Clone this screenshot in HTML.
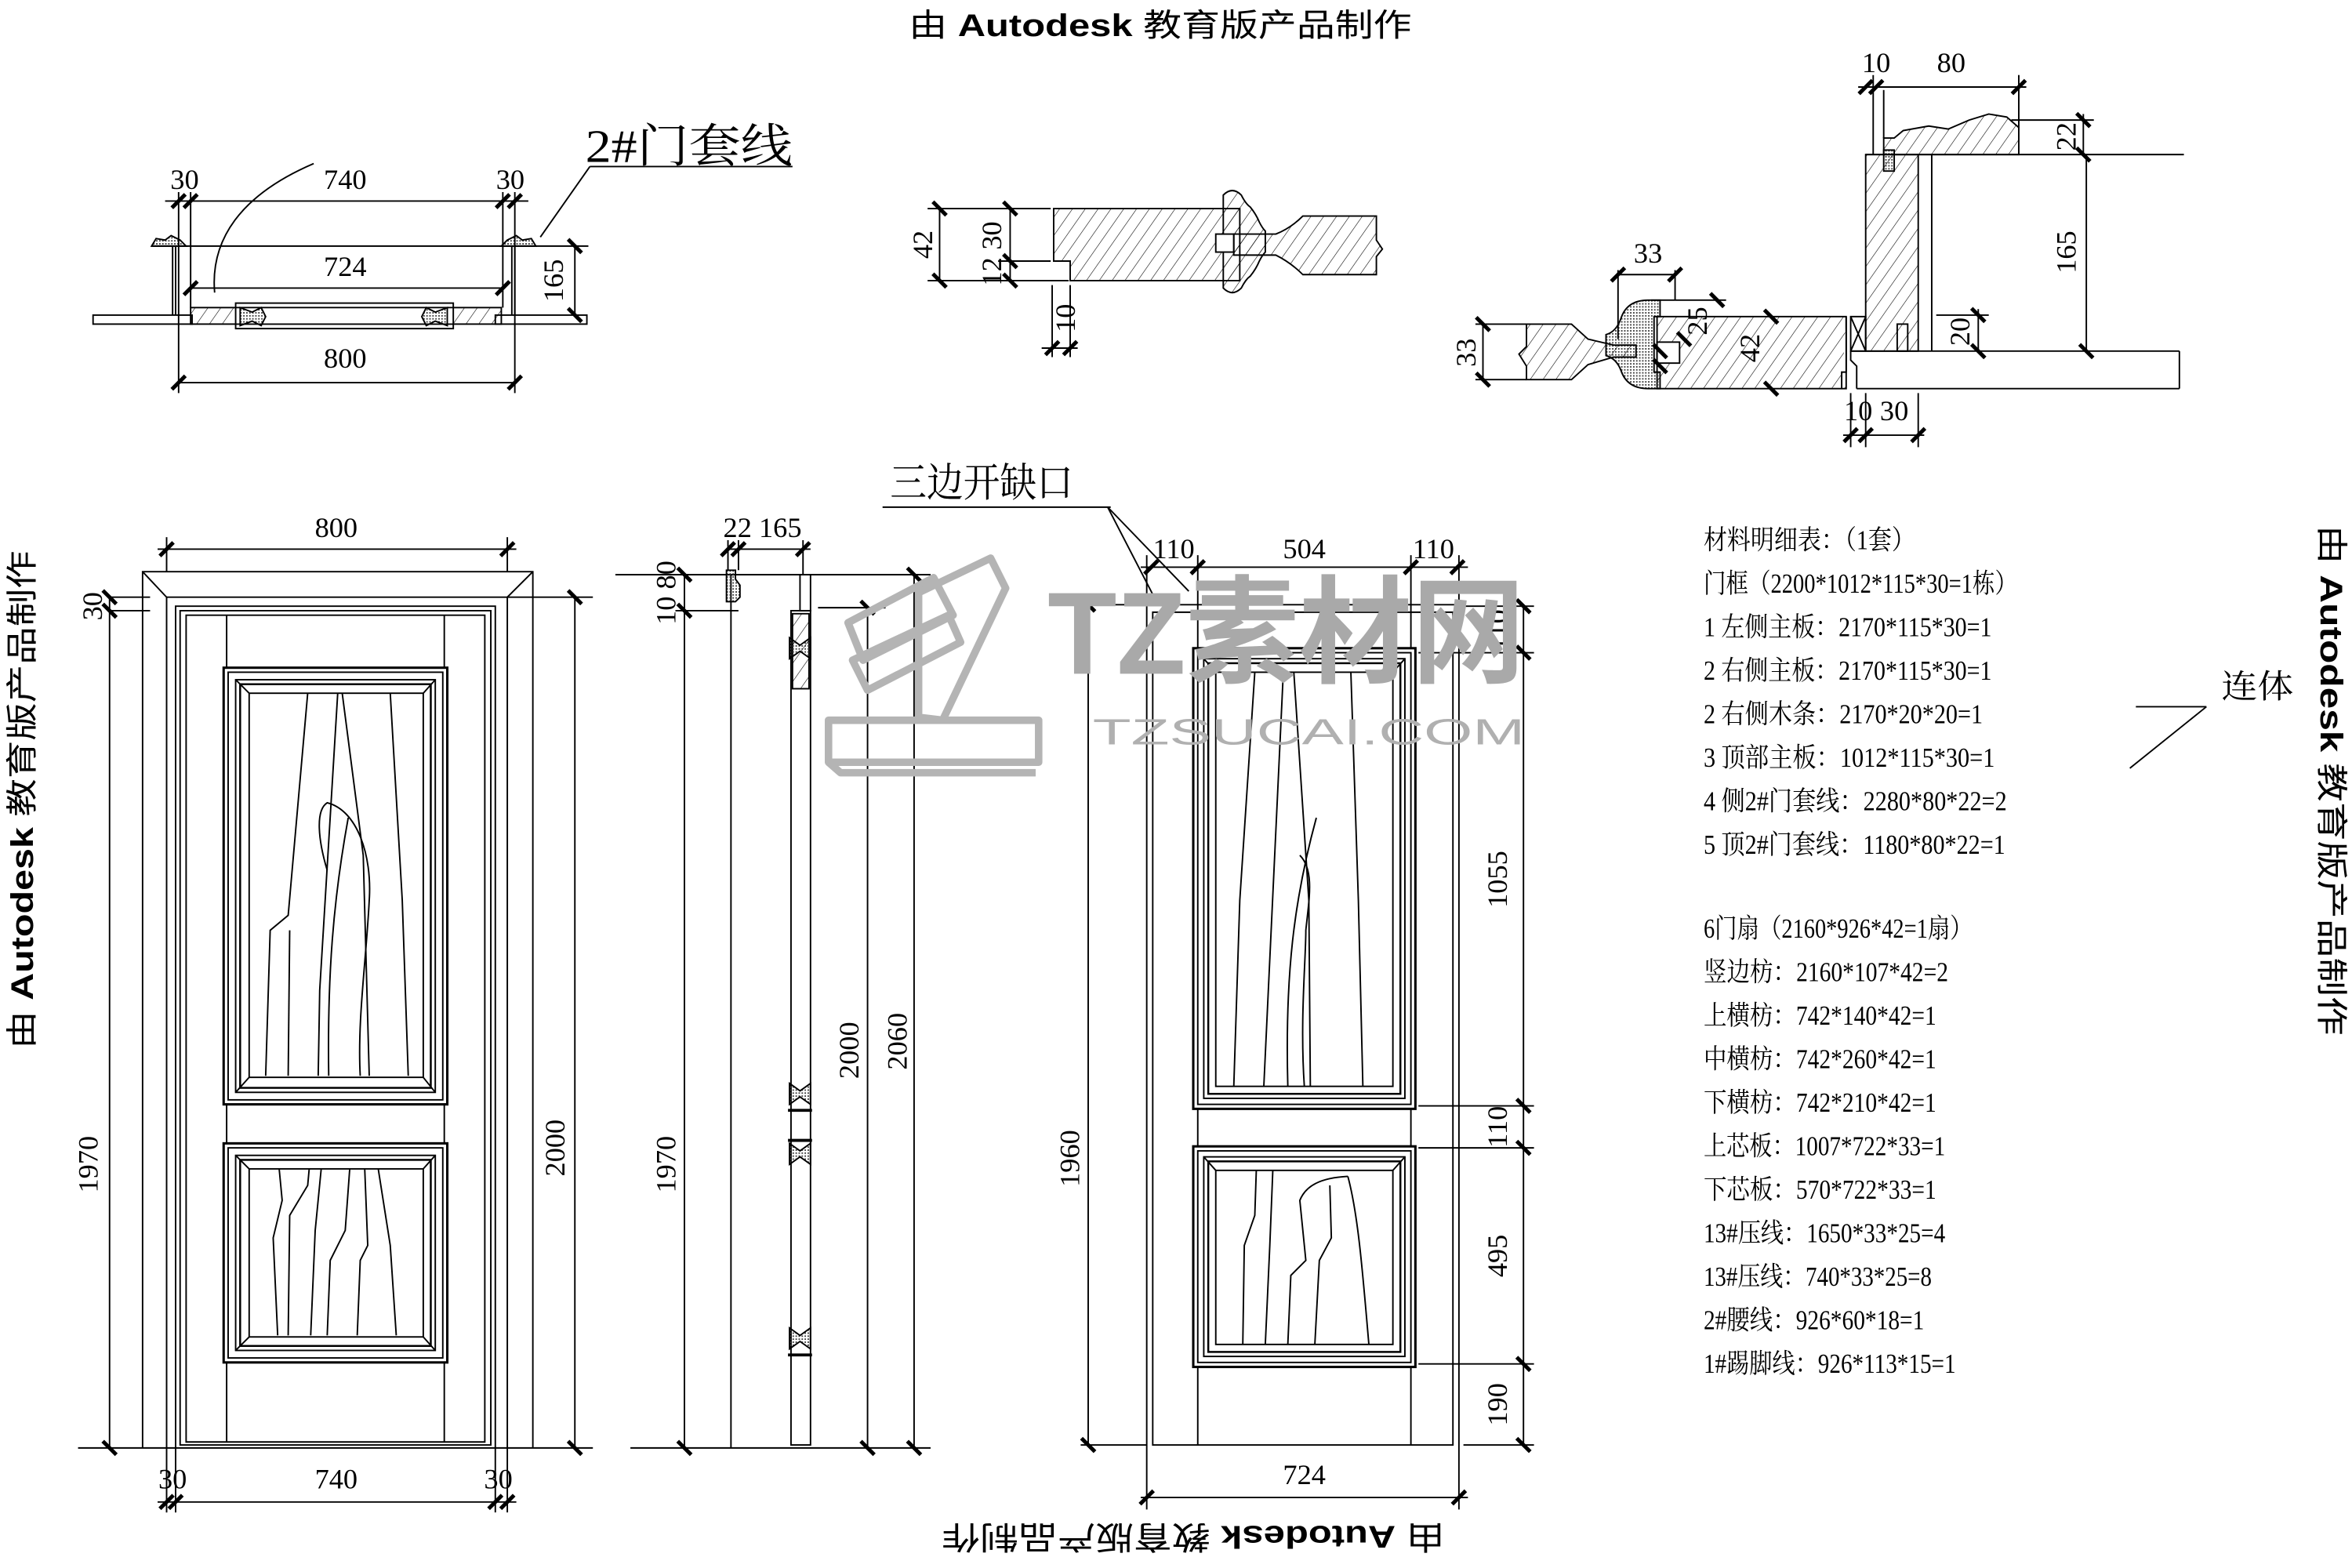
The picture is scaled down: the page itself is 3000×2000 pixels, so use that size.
<!DOCTYPE html>
<html><head><meta charset="utf-8"><style>
html,body{margin:0;padding:0;background:#fff;}
svg{display:block;}
text{font-family:"Liberation Serif","Noto Serif CJK SC",serif;fill:#000;}
.s{font-family:"Liberation Sans","Noto Sans CJK SC",sans-serif;}
</style></head><body>
<svg width="3000" height="2000" viewBox="0 0 1567 1045" preserveAspectRatio="none" xmlns="http://www.w3.org/2000/svg">
<defs>
<pattern id="h" width="7" height="7" patternUnits="userSpaceOnUse" patternTransform="rotate(35)"><line x1="0" y1="0" x2="0" y2="7" stroke="#000" stroke-width="0.6"/></pattern>
<pattern id="d" width="2" height="2" patternUnits="userSpaceOnUse"><rect width="1" height="1" fill="#444"/></pattern>
<g id="th"><line x1="-4.5" y1="4.5" x2="4.5" y2="-4.5" stroke="#000" stroke-width="2.6"/></g>
<g id="tv"><line x1="-4.5" y1="-4.5" x2="4.5" y2="4.5" stroke="#000" stroke-width="2.6"/></g>
</defs>
<rect width="1567" height="1045" fill="#fff"/>

<text x="773" y="24" class="s" font-size="21" textLength="335" lengthAdjust="spacingAndGlyphs" text-anchor="middle">由 <tspan font-weight="bold">Autodesk</tspan> 教育版产品制作</text>
<text transform="translate(795,1024) rotate(180)" x="0" y="7" class="s" font-size="21" textLength="335" lengthAdjust="spacingAndGlyphs" text-anchor="middle">由 <tspan font-weight="bold">Autodesk</tspan> 教育版产品制作</text>
<text transform="translate(15,533) rotate(-90)" x="0" y="7" class="s" font-size="21" textLength="332" lengthAdjust="spacingAndGlyphs" text-anchor="middle">由 <tspan font-weight="bold">Autodesk</tspan> 教育版产品制作</text>
<text transform="translate(1553,520) rotate(90)" x="0" y="7" class="s" font-size="21" textLength="340" lengthAdjust="spacingAndGlyphs" text-anchor="middle">由 <tspan font-weight="bold">Autodesk</tspan> 教育版产品制作</text>

<g stroke="#000" stroke-width="1" fill="none">
<rect x="62" y="210" width="66" height="6"/>
<rect x="330" y="210" width="61" height="6"/>
<rect x="127" y="205" width="207" height="11" fill="url(#h)"/>
<rect x="157" y="202" width="145" height="17" fill="#fff"/>
<line x1="157" y1="205" x2="302" y2="205"/><line x1="157" y1="216" x2="302" y2="216"/>
<path d="M160,205 l8,3 l6,-3 l3,6 l-3,6 l-6,-3 l-8,3 z" fill="url(#d)"/>
<path d="M298,205 l-8,3 l-6,-3 l-3,6 l3,6 l6,-3 l8,3 z" fill="url(#d)"/>
<path d="M101,164 l3,-5 l6,1 l4,-3 l6,3 l4,4 z" fill="url(#d)"/>
<path d="M357,164 l-3,-5 l-6,1 l-4,-3 l-6,3 l-4,4 z" fill="url(#d)"/>
<line x1="101" y1="164" x2="392" y2="164"/>
<line x1="115" y1="164" x2="115" y2="210"/><line x1="117" y1="164" x2="117" y2="210"/>
<line x1="341" y1="164" x2="341" y2="210"/><line x1="343" y1="164" x2="343" y2="210"/>
<line x1="119" y1="128" x2="119" y2="262"/><line x1="343" y1="128" x2="343" y2="262"/>
<line x1="127" y1="128" x2="127" y2="205"/><line x1="335" y1="128" x2="335" y2="205"/>
<line x1="110" y1="134" x2="352" y2="134"/>
<line x1="127" y1="192" x2="335" y2="192"/>
<line x1="119" y1="255" x2="343" y2="255"/>
<line x1="383" y1="164" x2="383" y2="210"/>
<path d="M209,109 C160,130 140,160 143,195"/>
<line x1="393" y1="111" x2="528" y2="111"/>
<line x1="393" y1="111" x2="360" y2="158"/>

<path d="M702,139 H826 V187 H713 V174 H702 Z" fill="url(#h)"/>
<path d="M815,130 q6,-6 12,0 q3,6 6,8 q4,5 6,10 q2,4 4,6 v14 q-2,2 -4,6 q-2,5 -6,10 q-3,2 -6,8 q-6,6 -12,0 z" fill="url(#h)"/>
<rect x="810" y="156" width="12" height="12" fill="#fff"/>
<path d="M822,156 H850 Q860,152 868,144 H917 V160 L921,166 L917,171 V183 H868 Q860,175 850,170 H822 Z" fill="url(#h)"/>
<line x1="618" y1="139" x2="700" y2="139"/><line x1="618" y1="187" x2="712" y2="187"/><line x1="665" y1="174" x2="700" y2="174"/>
<line x1="626" y1="139" x2="626" y2="187"/><line x1="673" y1="139" x2="673" y2="187"/>
<line x1="701" y1="190" x2="701" y2="238"/><line x1="713" y1="190" x2="713" y2="238"/>
<line x1="694" y1="232" x2="718" y2="232"/>

<rect x="1243" y="103" width="35" height="131" fill="url(#h)"/>
<rect x="1255" y="100" width="7" height="14" fill="url(#d)"/>
<path d="M1255,103 V92 H1262 L1268,87 L1285,84 L1298,86 L1312,80 L1325,76 L1337,78 L1345,85 V103 Z" fill="url(#h)"/>
<line x1="1243" y1="103" x2="1455" y2="103"/>
<line x1="1287" y1="103" x2="1287" y2="234"/>
<line x1="1233" y1="234" x2="1452" y2="234"/>
<line x1="1452" y1="234" x2="1452" y2="259"/>
<line x1="1237" y1="259" x2="1452" y2="259"/>
<path d="M1237,259 V244 L1233,240 V234"/>
<rect x="1104" y="211" width="126" height="48" fill="url(#h)"/>
<path d="M1230,211 V248 H1227 V259" fill="#fff"/>
<rect x="1233" y="211" width="10" height="23"/>
<line x1="1233" y1="211" x2="1243" y2="234"/><line x1="1243" y1="211" x2="1233" y2="234"/>
<rect x="1264" y="216" width="7" height="18"/>
<path d="M1080,212 q4,-12 18,-12 h8 v11 h-4 v37 h4 v11 h-8 q-14,0 -18,-12 q-3,-8 -10,-10 v-14 q7,-2 10,-11 z" fill="url(#d)"/>
<rect x="1104" y="228" width="15" height="14" fill="#fff"/>
<path d="M1017,216 H1047 L1058,226 L1075,230 H1090 V238 H1075 L1058,243 L1047,253 H1017 V244 L1012,236 L1017,231 Z" fill="url(#h)"/>
<line x1="1248" y1="50" x2="1248" y2="103"/><line x1="1255" y1="60" x2="1255" y2="92"/><line x1="1345" y1="50" x2="1345" y2="85"/>
<line x1="1238" y1="58" x2="1350" y2="58"/>
<line x1="1340" y1="80" x2="1395" y2="80"/><line x1="1388" y1="76" x2="1388" y2="103"/>
<line x1="1390" y1="103" x2="1390" y2="234"/>
<line x1="1290" y1="210" x2="1325" y2="210"/><line x1="1318" y1="206" x2="1318" y2="234"/>
<line x1="1078" y1="183" x2="1116" y2="183"/><line x1="1078" y1="180" x2="1078" y2="226"/><line x1="1116" y1="180" x2="1116" y2="200"/>
<line x1="1100" y1="200" x2="1150" y2="200"/>
<line x1="988" y1="216" x2="988" y2="253"/>
<line x1="983" y1="216" x2="1017" y2="216"/><line x1="983" y1="253" x2="1017" y2="253"/>
<line x1="1233" y1="262" x2="1233" y2="298"/><line x1="1243" y1="262" x2="1243" y2="298"/><line x1="1278" y1="262" x2="1278" y2="298"/>
<line x1="1228" y1="290" x2="1282" y2="290"/>

<path d="M95,965 V381 H355 V965"/>
<path d="M111,965 V398 H338 V965"/>
<line x1="95" y1="381" x2="111" y2="398"/><line x1="355" y1="381" x2="338" y2="398"/>
<path d="M117,965 V404 H330 V965"/>
<path d="M120,963 V407 H327 V963 Z"/>
<path d="M124,961 V410 H323 V961 Z"/>
<line x1="151" y1="410" x2="151" y2="961"/><line x1="296" y1="410" x2="296" y2="961"/>
<g fill="#fff">
<rect x="149" y="445" width="149" height="291" stroke-width="1.6"/>
<rect x="152" y="448" width="143" height="285"/>
<rect x="157" y="453" width="133" height="275"/>
<rect x="160" y="456" width="127" height="269" stroke-width="1.3"/>
<rect x="166" y="462" width="116" height="256"/>
<rect x="149" y="762" width="149" height="146" stroke-width="1.6"/>
<rect x="152" y="765" width="143" height="140"/>
<rect x="157" y="770" width="133" height="130"/>
<rect x="160" y="773" width="127" height="124" stroke-width="1.3"/>
<rect x="166" y="779" width="116" height="112"/>
</g>
<line x1="157" y1="453" x2="166" y2="462"/><line x1="290" y1="453" x2="282" y2="462"/><line x1="157" y1="728" x2="166" y2="718"/><line x1="290" y1="728" x2="282" y2="718"/>
<line x1="157" y1="770" x2="166" y2="779"/><line x1="290" y1="770" x2="282" y2="779"/><line x1="157" y1="900" x2="166" y2="891"/><line x1="290" y1="900" x2="282" y2="891"/>
<path d="M177,717 L180,620 L192,610 L205,462"/>
<path d="M192,717 L193,620"/>
<path d="M212,717 L213,660 L225,462"/>
<path d="M228,462 L242,570 L246,717"/>
<path d="M260,462 L268,600 L272,717"/>
<path d="M219,717 C218,650 222,600 232,545"/>
<path d="M240,717 C238,680 244,640 246,600 C248,570 238,540 218,535 C210,540 212,560 218,580"/>
<path d="M185,890 L182,825 L188,800 L186,779"/>
<path d="M192,890 L193,810 L205,790 L206,779"/>
<path d="M207,890 L210,820 L214,779"/>
<path d="M218,890 L220,840 L230,820 L233,779"/>
<path d="M238,890 L240,840 L245,830 L243,779"/>
<path d="M252,779 L260,830 L264,890"/>
<line x1="73" y1="398" x2="100" y2="398"/><line x1="73" y1="407" x2="100" y2="407"/>
<line x1="73" y1="398" x2="73" y2="965"/>
<line x1="52" y1="965" x2="395" y2="965"/>
<line x1="338" y1="398" x2="395" y2="398"/>
<line x1="383" y1="398" x2="383" y2="965"/>
<line x1="111" y1="358" x2="111" y2="381"/><line x1="338" y1="358" x2="338" y2="381"/>
<line x1="105" y1="366" x2="344" y2="366"/>
<line x1="111" y1="965" x2="111" y2="1008"/><line x1="117" y1="965" x2="117" y2="1008"/><line x1="330" y1="965" x2="330" y2="1008"/><line x1="338" y1="965" x2="338" y2="1008"/>
<line x1="105" y1="1001" x2="344" y2="1001"/>

<line x1="410" y1="383" x2="620" y2="383"/>
<line x1="450" y1="407" x2="492" y2="407"/>
<line x1="456" y1="383" x2="456" y2="965"/>
<line x1="487" y1="383" x2="487" y2="965"/>
<line x1="420" y1="965" x2="620" y2="965"/>
<path d="M484,380 h6 v6 l3,4 v8 l-3,3 h-6 z" fill="url(#d)"/>
<line x1="485" y1="366" x2="540" y2="366"/>
<line x1="485" y1="360" x2="485" y2="380"/><line x1="492" y1="360" x2="492" y2="380"/><line x1="535" y1="360" x2="535" y2="383"/>
<rect x="527" y="407" width="13" height="556"/>
<rect x="533" y="383" width="7" height="24"/>
<rect x="528" y="409" width="11" height="50" fill="url(#h)"/>
<path d="M526,425 l7,5 l7,-5 v14 l-7,-5 l-7,5 z" fill="url(#d)"/>
<path d="M526,722 l7,5 l7,-5 v14 l-7,-5 l-7,5 z" fill="url(#d)"/>
<path d="M526,762 l7,5 l7,-5 v14 l-7,-5 l-7,5 z" fill="url(#d)"/>
<path d="M526,885 l7,5 l7,-5 v14 l-7,-5 l-7,5 z" fill="url(#d)"/>
<line x1="525" y1="740" x2="541" y2="740" stroke-width="2"/><line x1="525" y1="760" x2="541" y2="760" stroke-width="2"/><line x1="525" y1="903" x2="541" y2="903" stroke-width="2"/>
<line x1="545" y1="405" x2="590" y2="405"/>
<line x1="578" y1="405" x2="578" y2="965"/>
<line x1="609" y1="383" x2="609" y2="965"/>

<path d="M764,963 V403 H972 V963"/>
<path d="M768,963 V408 H968 V963 Z"/>
<line x1="798" y1="408" x2="798" y2="963"/><line x1="940" y1="408" x2="940" y2="963"/>
<g fill="#fff">
<rect x="795" y="432" width="148" height="307" stroke-width="1.6"/>
<rect x="798" y="435" width="142" height="301"/>
<rect x="802" y="439" width="134" height="293"/>
<rect x="805" y="442" width="128" height="287" stroke-width="1.3"/>
<rect x="810" y="448" width="118" height="276"/>
<rect x="795" y="764" width="148" height="147" stroke-width="1.6"/>
<rect x="798" y="767" width="142" height="141"/>
<rect x="802" y="771" width="134" height="133"/>
<rect x="805" y="774" width="128" height="127" stroke-width="1.3"/>
<rect x="810" y="780" width="118" height="116"/>
</g>
<line x1="802" y1="439" x2="810" y2="448"/><line x1="936" y1="439" x2="928" y2="448"/>
<line x1="802" y1="771" x2="810" y2="780"/><line x1="936" y1="771" x2="928" y2="780"/>
<path d="M822,724 L826,600 L836,448"/>
<path d="M842,724 L855,448"/>
<path d="M862,448 L872,600 L873,724"/>
<path d="M900,448 L905,600 L908,724"/>
<path d="M858,724 C856,650 862,600 877,545"/>
<path d="M869,724 C866,680 870,640 870,620 C872,600 876,580 866,570"/>
<path d="M828,896 L829,830 L836,810 L837,780"/>
<path d="M843,896 L846,830 L848,780"/>
<path d="M858,896 L860,850 L870,840 L866,800 C870,790 880,785 898,784"/>
<path d="M876,896 L879,840 L887,825 L886,790"/>
<path d="M898,784 C905,810 908,850 912,896"/>
<line x1="764" y1="370" x2="764" y2="403"/><line x1="798" y1="370" x2="798" y2="408"/><line x1="940" y1="370" x2="940" y2="408"/><line x1="972" y1="370" x2="972" y2="403"/>
<line x1="760" y1="378" x2="978" y2="378"/>
<line x1="720" y1="403" x2="764" y2="403"/><line x1="720" y1="963" x2="764" y2="963"/>
<line x1="725" y1="403" x2="725" y2="963"/>
<line x1="975" y1="404" x2="1022" y2="404"/><line x1="945" y1="435" x2="1022" y2="435"/>
<line x1="945" y1="737" x2="1022" y2="737"/><line x1="945" y1="765" x2="1022" y2="765"/>
<line x1="945" y1="909" x2="1022" y2="909"/><line x1="975" y1="963" x2="1022" y2="963"/>
<line x1="1015" y1="404" x2="1015" y2="963"/>
<line x1="764" y1="963" x2="764" y2="1006"/><line x1="972" y1="963" x2="972" y2="1006"/>
<line x1="760" y1="998" x2="978" y2="998"/>
<line x1="588" y1="338" x2="740" y2="338"/>
<line x1="738" y1="338" x2="770" y2="400"/>
<line x1="738" y1="338" x2="792" y2="394"/>
<line x1="1423" y1="471" x2="1470" y2="471"/>
<line x1="1470" y1="471" x2="1419" y2="512"/>
</g>

<use href="#th" x="119" y="134"/><use href="#th" x="127" y="134"/><use href="#th" x="335" y="134"/><use href="#th" x="343" y="134"/>
<use href="#th" x="127" y="192"/><use href="#th" x="335" y="192"/>
<use href="#th" x="119" y="255"/><use href="#th" x="343" y="255"/>
<use href="#tv" x="383" y="164"/><use href="#tv" x="383" y="210"/>
<use href="#tv" x="626" y="139"/><use href="#tv" x="626" y="187"/><use href="#tv" x="673" y="139"/><use href="#tv" x="673" y="174"/><use href="#tv" x="673" y="187"/>
<use href="#th" x="701" y="232"/><use href="#th" x="713" y="232"/>
<use href="#th" x="1243" y="58"/><use href="#th" x="1250" y="58"/><use href="#th" x="1345" y="58"/>
<use href="#tv" x="1388" y="80"/><use href="#tv" x="1388" y="103"/><use href="#tv" x="1390" y="234"/>
<use href="#tv" x="1318" y="210"/><use href="#tv" x="1318" y="234"/>
<use href="#th" x="1078" y="183"/><use href="#th" x="1116" y="183"/>
<use href="#tv" x="1144" y="200"/><use href="#tv" x="1122" y="226"/><use href="#tv" x="1106" y="234"/><use href="#tv" x="1106" y="244"/><use href="#tv" x="1180" y="211"/><use href="#tv" x="1180" y="259"/>
<use href="#tv" x="988" y="216"/><use href="#tv" x="988" y="253"/>
<use href="#th" x="1233" y="290"/><use href="#th" x="1243" y="290"/><use href="#th" x="1278" y="290"/>
<use href="#th" x="111" y="366"/><use href="#th" x="338" y="366"/>
<use href="#tv" x="73" y="398"/><use href="#tv" x="73" y="407"/><use href="#tv" x="73" y="965"/>
<use href="#tv" x="383" y="398"/><use href="#tv" x="383" y="965"/>
<use href="#th" x="111" y="1001"/><use href="#th" x="117" y="1001"/><use href="#th" x="330" y="1001"/><use href="#th" x="338" y="1001"/>
<use href="#tv" x="456" y="383"/><use href="#tv" x="456" y="407"/><use href="#tv" x="456" y="965"/>
<use href="#th" x="485" y="366"/><use href="#th" x="492" y="366"/><use href="#th" x="535" y="366"/>
<use href="#tv" x="578" y="405"/><use href="#tv" x="578" y="965"/><use href="#tv" x="609" y="383"/><use href="#tv" x="609" y="965"/>
<use href="#th" x="767" y="378"/><use href="#th" x="798" y="378"/><use href="#th" x="940" y="378"/><use href="#th" x="971" y="378"/>
<use href="#tv" x="725" y="403"/><use href="#tv" x="725" y="963"/>
<use href="#tv" x="1015" y="404"/><use href="#tv" x="1015" y="435"/><use href="#tv" x="1015" y="737"/><use href="#tv" x="1015" y="765"/><use href="#tv" x="1015" y="909"/><use href="#tv" x="1015" y="963"/>
<use href="#th" x="764" y="998"/><use href="#th" x="972" y="998"/>

<g font-size="19" text-anchor="middle">
<text x="123" y="126">30</text><text x="230" y="126">740</text><text x="340" y="126">30</text>
<text x="230" y="184">724</text><text x="230" y="245">800</text>
<text transform="translate(375,187) rotate(-90)">165</text>
<text transform="translate(621,163) rotate(-90)">42</text>
<text transform="translate(667,157) rotate(-90)">30</text>
<text transform="translate(667,181) rotate(-90)">12</text>
<text transform="translate(716,212) rotate(-90)">10</text>
<text x="1250" y="48">10</text><text x="1300" y="48">80</text>
<text transform="translate(1383,91) rotate(-90)">22</text>
<text transform="translate(1383,168) rotate(-90)">165</text>
<text transform="translate(1312,221) rotate(-90)">20</text>
<text x="1098" y="175">33</text>
<text transform="translate(1137,214) rotate(-90)">25</text>
<text transform="translate(1172,232) rotate(-90)">42</text>
<text transform="translate(983,235) rotate(-90)">33</text>
<text x="1238" y="280">10</text><text x="1262" y="280">30</text>
<text x="224" y="358">800</text>
<text transform="translate(68,404) rotate(-90)">30</text>
<text transform="translate(65,776) rotate(-90)">1970</text>
<text transform="translate(376,765) rotate(-90)">2000</text>
<text x="115" y="992">30</text><text x="224" y="992">740</text><text x="332" y="992">30</text>
<text transform="translate(450,395) rotate(-90)">10 80</text>
<text x="508" y="358">22 165</text>
<text transform="translate(450,776) rotate(-90)">1970</text>
<text transform="translate(572,700) rotate(-90)">2000</text>
<text transform="translate(604,694) rotate(-90)">2060</text>
<text x="782" y="372">110</text><text x="869" y="372">504</text><text x="955" y="372">110</text>
<text transform="translate(719,772) rotate(-90)">1960</text>
<text transform="translate(1004,420) rotate(-90)">110</text>
<text transform="translate(1004,586) rotate(-90)">1055</text>
<text transform="translate(1004,751) rotate(-90)">110</text>
<text transform="translate(1004,837) rotate(-90)">495</text>
<text transform="translate(1004,936) rotate(-90)">190</text>
<text x="869" y="989">724</text>
</g>

<text x="390" y="108" font-size="31" textLength="138" lengthAdjust="spacingAndGlyphs">2#门套线</text>
<text x="593" y="331" font-size="27" textLength="122" lengthAdjust="spacingAndGlyphs">三边开缺口</text>
<text x="1480" y="465" font-size="22" textLength="48" lengthAdjust="spacingAndGlyphs">连体</text>

<g font-size="18">
<text x="1135" y="366" textLength="141" lengthAdjust="spacingAndGlyphs">材料明细表：（1套）</text>
<text x="1135" y="395" textLength="209" lengthAdjust="spacingAndGlyphs">门框（2200*1012*115*30=1栋）</text>
<text x="1135" y="424" textLength="192" lengthAdjust="spacingAndGlyphs">1 左侧主板：2170*115*30=1</text>
<text x="1135" y="453" textLength="192" lengthAdjust="spacingAndGlyphs">2 右侧主板：2170*115*30=1</text>
<text x="1135" y="482" textLength="186" lengthAdjust="spacingAndGlyphs">2 右侧木条：2170*20*20=1</text>
<text x="1135" y="511" textLength="194" lengthAdjust="spacingAndGlyphs">3 顶部主板：1012*115*30=1</text>
<text x="1135" y="540" textLength="202" lengthAdjust="spacingAndGlyphs">4 侧2#门套线：2280*80*22=2</text>
<text x="1135" y="569" textLength="201" lengthAdjust="spacingAndGlyphs">5 顶2#门套线：1180*80*22=1</text>
<text x="1135" y="625" textLength="179" lengthAdjust="spacingAndGlyphs">6门扇（2160*926*42=1扇）</text>
<text x="1135" y="654" textLength="163" lengthAdjust="spacingAndGlyphs">竖边枋：2160*107*42=2</text>
<text x="1135" y="683" textLength="155" lengthAdjust="spacingAndGlyphs">上横枋：742*140*42=1</text>
<text x="1135" y="712" textLength="155" lengthAdjust="spacingAndGlyphs">中横枋：742*260*42=1</text>
<text x="1135" y="741" textLength="155" lengthAdjust="spacingAndGlyphs">下横枋：742*210*42=1</text>
<text x="1135" y="770" textLength="161" lengthAdjust="spacingAndGlyphs">上芯板：1007*722*33=1</text>
<text x="1135" y="799" textLength="155" lengthAdjust="spacingAndGlyphs">下芯板：570*722*33=1</text>
<text x="1135" y="828" textLength="161" lengthAdjust="spacingAndGlyphs">13#压线：1650*33*25=4</text>
<text x="1135" y="857" textLength="152" lengthAdjust="spacingAndGlyphs">13#压线：740*33*25=8</text>
<text x="1135" y="886" textLength="147" lengthAdjust="spacingAndGlyphs">2#腰线：926*60*18=1</text>
<text x="1135" y="915" textLength="168" lengthAdjust="spacingAndGlyphs">1#踢脚线：926*113*15=1</text>
</g>

<!-- watermark on top -->
<g fill="none" stroke="#b4b4b4" stroke-width="5" stroke-linejoin="round">
<polygon points="565,415 622,385 635,410 575,440"/>
<polygon points="568,440 578,460 640,428 632,410"/>
<polygon points="612,395 660,372 670,392 628,480 612,478"/>
<polygon points="552,480 692,480 692,508 552,508"/>
<polyline points="552,508 560,515 690,515"/>
</g>
<text x="698" y="449" class="s" font-size="78" font-weight="bold" style="fill:#a9a9a9" textLength="318" lengthAdjust="spacingAndGlyphs">TZ素材网</text>
<text x="728" y="496" class="s" font-size="24" style="fill:#b0b0b0" textLength="288" lengthAdjust="spacingAndGlyphs">TZSUCAI.COM</text>
</svg>
</body></html>
